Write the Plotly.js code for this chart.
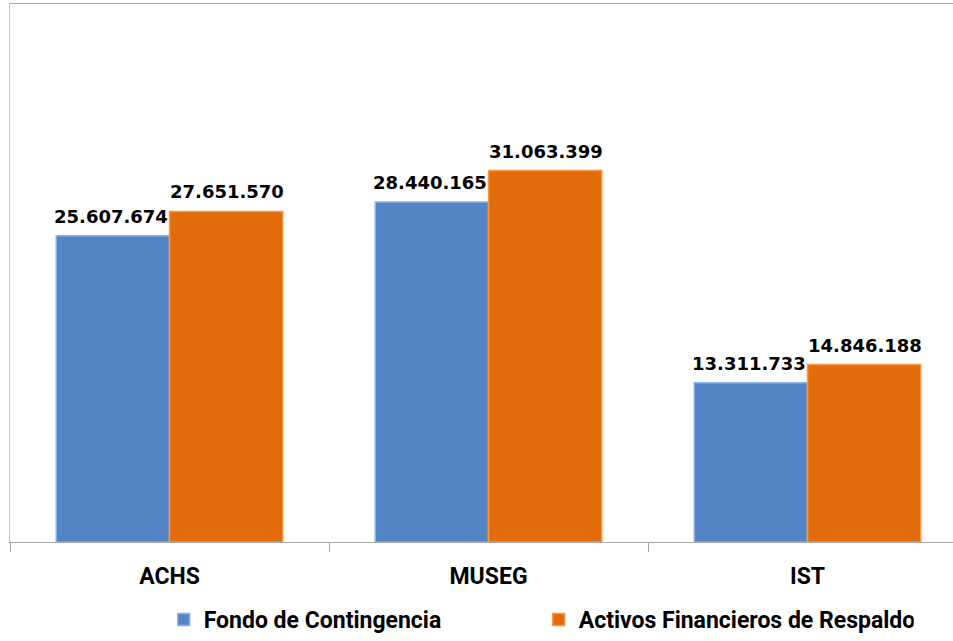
<!DOCTYPE html>
<html>
<head>
<meta charset="utf-8">
<script src="https://cdn.plot.ly/plotly-3.0.1.min.js"></script>
<style>html,body{margin:0;padding:0;background:#fff;}#chart{width:953px;height:641px;}</style>
</head>
<body>
<div id="chart"></div>
<script>
const categories = ["ACHS", "MUSEG", "IST"];
const seriesNames = ["Fondo de Contingencia", "Activos Financieros de Respaldo"];
const fondo = [25607674, 28440165, 13311733];
const activos = [27651570, 31063399, 14846188];

function fmt(v) {
  return String(v).replace(/\B(?=(\d{3})+(?!\d))/g, ".");
}

const colors = ["#5385c6", "#e36c0a"];
const edges = ["#8ab4e6", "#f89a45"];
const series = [fondo, activos];

const traces = series.map((vals, i) => ({
  type: "bar",
  name: seriesNames[i],
  x: categories,
  y: vals,
  marker: { color: colors[i], line: { color: edges[i], width: 1.5 } },
  hoverinfo: "none"
}));

const labelFont = { family: "DejaVu Sans", size: 18, color: "#000", weight: "bold" };
const annotations = [];
series.forEach((vals, i) => {
  vals.forEach((v, j) => {
    annotations.push({
      x: categories[j], y: v, xref: "x", yref: "y",
      text: fmt(v), showarrow: false,
      yanchor: "bottom", xanchor: "center",
      xshift: i === 0 ? -59 : 57, yshift: 7,
      font: labelFont
    });
  });
});

const textFont = { family: "Roboto", size: 23, color: "#000", weight: "bold" };

const layout = {
  width: 953, height: 641,
  margin: { l: 10, r: 0, t: 4, b: 98 },
  paper_bgcolor: "#fff", plot_bgcolor: "#fff",
  barmode: "group", bargap: 0.29, bargroupgap: 0,
  showlegend: true,
  xaxis: {
    type: "category",
    range: [-0.5, 2.456],
    showline: true, linecolor: "#a6a6a6", linewidth: 1, mirror: true,
    ticks: "outside", tickson: "boundaries", ticklen: 9, tickcolor: "#a6a6a6",
    ticklabelstandoff: 13,
    tickfont: textFont,
    showgrid: false, zeroline: false, fixedrange: true
  },
  yaxis: {
    range: [0, 45000000],
    showline: true, linecolor: "#c8c8c8", linewidth: 1,
    showticklabels: false, ticks: "", showgrid: false, zeroline: false, fixedrange: true
  },
  legend: {
    orientation: "h",
    x: 0.163, xanchor: "left",
    y: -0.143, yanchor: "middle",
    font: textFont,
    entrywidth: 330, entrywidthmode: "pixels",
    bgcolor: "rgba(0,0,0,0)"
  },
  annotations: annotations
};

Plotly.newPlot("chart", traces, layout, { displayModeBar: false, staticPlot: true });
</script>
</body>
</html>
